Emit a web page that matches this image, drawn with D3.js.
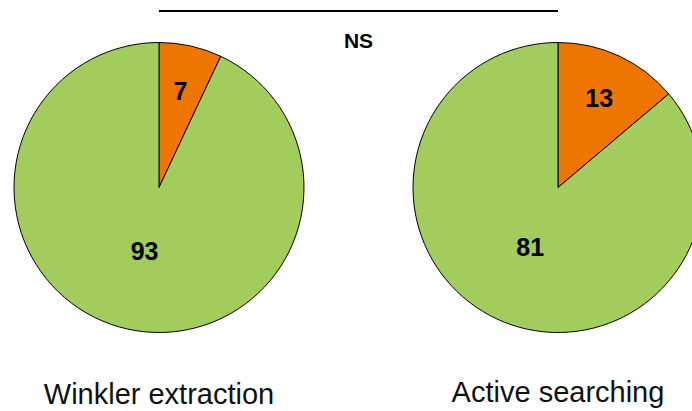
<!DOCTYPE html>
<html>
<head>
<meta charset="utf-8">
<script src="https://cdn.jsdelivr.net/npm/d3@7"></script>
<style>
  body { margin: 0; background: #fff; }
  svg { display: block; }
</style>
</head>
<body>
<div class="pies"></div>
<script>
//Canvas dimensions
var width = 692,
    height = 411;

//Data: one pie per method, slices in order (orange first, then green)
var methods = ["Winkler extraction", "Active searching"];
var winklerValues = [7, 93];
var activeValues = [13, 81];
var sliceColors = ["#EE7600", "#A2CC5B"];
var testLabel = "NS";

var pieData = [winklerValues, activeValues];

var svg = d3.select(".pies")
            .append("svg")
            .attr("width", width)
            .attr("height", height);

//Pie centres placed with a point scale
var x = d3.scalePoint().domain(methods).range([159, 558]);
var cy = 187.5,
    radius = 145;

var pie = d3.pie().sort(null).value(function(d) { return d; });
var arc = d3.arc().innerRadius(0).outerRadius(radius);

//Label radius: small slice labels sit further out than big slice labels
var labelArcSmall = d3.arc().innerRadius(98).outerRadius(98);
var labelArcBig = d3.arc().innerRadius(66).outerRadius(66);

methods.forEach(function(m, i) {
  var g = svg.append("g")
             .attr("transform", "translate(" + x(m) + "," + cy + ")");

  var slices = pie(pieData[i]);

  g.selectAll("path")
   .data(slices)
   .enter()
   .append("path")
   .attr("d", arc)
   .attr("fill", function(d, j) { return sliceColors[j]; })
   .attr("stroke", "#000")
   .attr("stroke-width", 1);

  g.selectAll("text.val")
   .data(slices)
   .enter()
   .append("text")
   .attr("class", "val")
   .attr("transform", function(d, j) {
     var c = (j == 0 ? labelArcSmall : labelArcBig).centroid(d);
     return "translate(" + c[0] + "," + c[1] + ")";
   })
   .attr("text-anchor", "middle")
   .attr("dy", "0.34em")
   .style("font-family", "'Liberation Sans', Arial, sans-serif")
   .style("font-weight", "bold")
   .style("font-size", "25px")
   .text(function(d) { return d.data; });

  //Method caption under the pie
  svg.append("text")
     .attr("x", x(m))
     .attr("y", i == 0 ? 404 : 402)
     .attr("text-anchor", "middle")
     .style("font-family", "'Liberation Sans', Arial, sans-serif")
     .style("font-size", "29px")
     .style("fill", "#111")
     .text(m);
});

//Significance bracket between the two pies
svg.append("line")
   .attr("x1", x(methods[0]))
   .attr("x2", x(methods[1]))
   .attr("y1", 11)
   .attr("y2", 11)
   .attr("stroke", "#000")
   .attr("stroke-width", 2);

svg.append("text")
   .attr("x", (x(methods[0]) + x(methods[1])) / 2)
   .attr("y", 48)
   .attr("text-anchor", "middle")
   .style("font-family", "'Liberation Sans', Arial, sans-serif")
   .style("font-weight", "bold")
   .style("font-size", "21px")
   .text(testLabel);
</script>
</body>
</html>
